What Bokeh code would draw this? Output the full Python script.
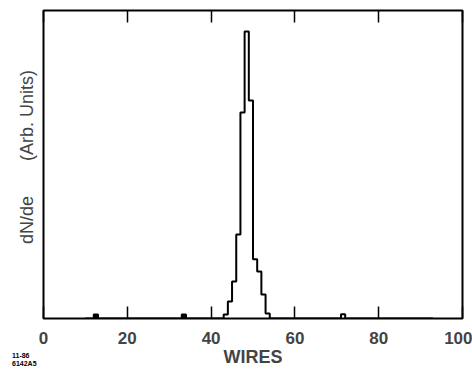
from bokeh.plotting import figure
from bokeh.models import Range1d, LinearAxis, FixedTicker, Div
from bokeh.layouts import column
from bokeh.embed import file_html
from bokeh.resources import INLINE

# Histogram: bin left edges (wire number) and heights (arb. units, 0-100 scale)
bin_left = [12, 33, 43, 44, 45, 46, 47, 48, 49, 50, 51, 52, 53, 71]
bin_height = [1.3, 1.3, 1.3, 5.5, 12.0, 27.3, 66.9, 93.2, 70.8, 19.2, 15.3, 7.8, 1.6, 1.4]
bin_width = 1
filled_bins = [12, 33]          # small isolated bins drawn solid in the original
wire_start, wire_end = 10, 93
x_ticks = [0, 20, 40, 60, 80, 100]
figure_code = ["11-86", "6142A5"]

hist = {w: 0.0 for w in range(wire_start, wire_end)}
for l, h in zip(bin_left, bin_height):
    hist[l] = h
xs = list(range(wire_start, wire_end)) + [wire_end]
ys = [hist[w] for w in range(wire_start, wire_end)] + [0.0]

FONT = "Liberation Sans"

p = figure(width=472, height=372, output_backend="svg", toolbar_location=None,
           x_range=Range1d(0, 100), y_range=Range1d(0, 100),
           x_axis_location=None, y_axis_location=None,
           min_border_left=43, min_border_right=10, min_border_top=10, min_border_bottom=54)
p.grid.visible = False
p.outline_line_color = "black"
p.outline_line_width = 2

p.quad(left=filled_bins, right=[b + bin_width for b in filled_bins], bottom=0,
       top=[hist[b] for b in filled_bins], fill_color="black", line_color="black")
p.step(xs, ys, mode="after", line_color="black", line_width=2)

xb = LinearAxis(ticker=FixedTicker(ticks=x_ticks))
xb.axis_label = "WIRES"
xb.axis_line_color = None
xb.major_tick_in = 12
xb.major_tick_out = 0
xb.major_tick_line_width = 1.5
xb.minor_tick_line_color = None
xb.major_label_standoff = 13
xb.major_label_text_font = FONT
xb.major_label_text_font_size = "17px"
xb.major_label_text_font_style = "bold"
xb.axis_label_text_font = FONT
xb.axis_label_text_font_size = "18px"
xb.axis_label_text_font_style = "bold"
xb.axis_label_standoff = 0
p.add_layout(xb, "below")

xt = LinearAxis(ticker=FixedTicker(ticks=x_ticks))
xt.axis_line_color = None
xt.major_tick_in = 12
xt.major_tick_out = 0
xt.major_tick_line_width = 1.5
xt.minor_tick_line_color = None
xt.major_label_overrides = {t: "" for t in x_ticks}
xt.major_label_text_font_size = "1px"
xt.major_label_standoff = 0
p.add_layout(xt, "above")

yl = LinearAxis(ticker=FixedTicker(ticks=[]))
yl.axis_line_color = None
yl.major_tick_line_color = None
yl.minor_tick_line_color = None
yl.axis_label = "\u00a0\u00a0\u00a0dN/de\u00a0\u00a0\u00a0\u00a0\u00a0\u00a0\u00a0(Arb. Units)"
yl.axis_label_text_font = FONT
yl.axis_label_text_font_size = "18px"
yl.axis_label_text_font_style = "normal"
yl.axis_label_standoff = 7
p.add_layout(yl, "left")

# small figure code in the bottom-left corner, overlaid on the figure's border
code = Div(text="<br>".join(figure_code), width=40, height=16, margin=(-20, 0, 0, 12),
           styles={"font-family": FONT, "font-size": "7px", "font-weight": "bold",
                   "line-height": "8px", "color": "black"})

layout = column(p, code, spacing=0)
open("out.html", "w").write(file_html(layout, INLINE))
